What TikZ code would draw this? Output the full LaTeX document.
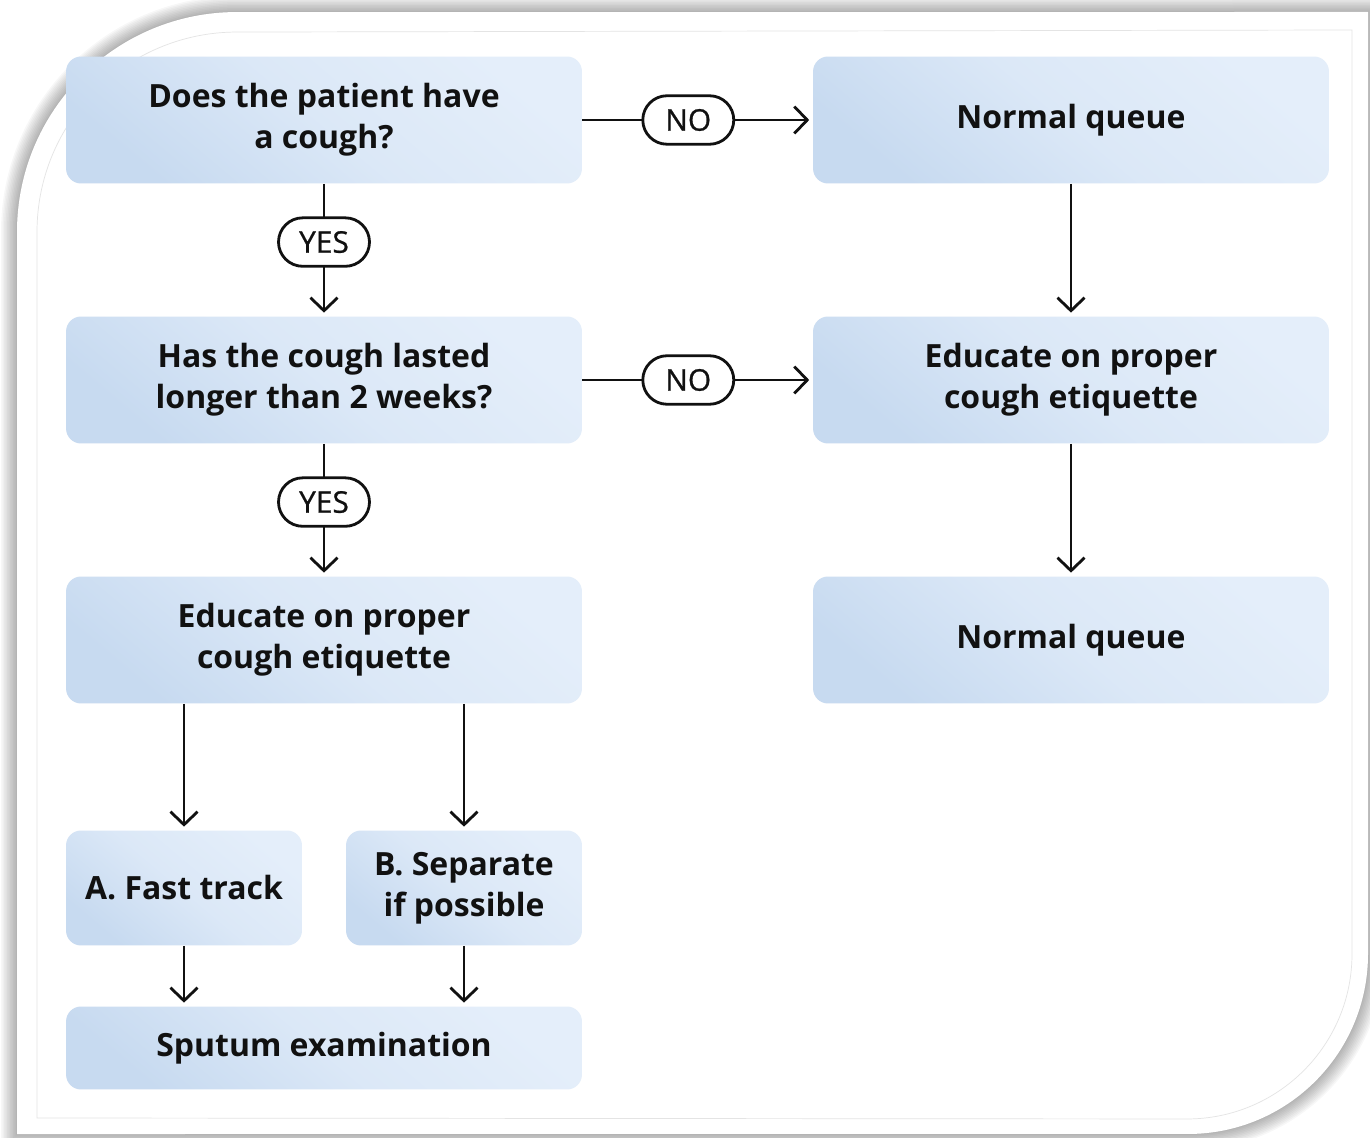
\documentclass[tikz,border=0pt]{standalone}
\usepackage{fontspec}
\setmainfont{Open Sans}
\newfontfamily\pillfont[FakeBold=0.8]{Open Sans}
\usetikzlibrary{arrows.meta,shapes.misc}
\tikzset{>={Straight Barb[length=2.6mm,width=5.4mm]}}
\definecolor{BoxLight}{RGB}{228,238,250}
\definecolor{BoxDark}{RGB}{199,218,240}
\definecolor{Ink}{RGB}{17,17,17}
\definecolor{Rim}{RGB}{228,228,228}
\newcommand\frameshape{(17,232) arc[start angle=180,end angle=90,radius=4.4cm] -- (1368,12) -- (1368,954) arc[start angle=0,end angle=-90,radius=3.6cm] -- (17,1134) -- cycle}
\newcommand\rimshape{(37,232) arc[start angle=180,end angle=90,radius=4cm] -- (1352,30) -- (1352,954) arc[start angle=0,end angle=-90,radius=3.3cm] -- (37,1118) -- cycle}
\tikzset{
  stepbox/.style={rectangle, rounded corners=0.3cm, inner sep=0pt, align=center,
    top color=BoxLight, bottom color=BoxDark, middle color=BoxLight!70!BoxDark, shading angle=-40,
    text=Ink, font=\bfseries\fontsize{18.2}{23.5}\selectfont,
    minimum width=10.32cm, minimum height=2.54cm},
  smallbox/.style={stepbox, minimum width=4.72cm, minimum height=2.3cm},
  pill/.style={rounded rectangle, draw=Ink, line width=1.6pt, fill=white, text=Ink,
    font=\pillfont\fontsize{17}{20}\selectfont, inner sep=0pt, minimum width=1.82cm, minimum height=0.97cm},
  link/.style={->, draw=Ink, line width=1.6pt, shorten >=0.07cm}
}

\begin{document}
\begin{tikzpicture}[x=0.02cm,y=-0.02cm]
        \useasboundingbox (0,0) rectangle (1370,1138);
        \clip (0,0) rectangle (1370,1138);
        \foreach \w in {2,5,...,32}
          \draw[black, opacity=0.03, line width=\w*0.02cm] \frameshape;
        \fill[white] \frameshape;
        \draw[Rim, line width=0.4pt] \rimshape;

        \node[stepbox] (cough) at (324,120) {Does the patient have\\a cough?};
        \node[stepbox] (queue1) at (1071,120) {Normal queue};
        \node[stepbox] (lasted) at (324,380) {Has the cough lasted\\longer than 2 weeks?};
        \node[stepbox] (educate1) at (1071,380) {Educate on proper\\cough etiquette};
        \node[stepbox] (educate2) at (324,640) {Educate on proper\\cough etiquette};
        \node[stepbox] (queue2) at (1071,640) {Normal queue};
        \node[smallbox] (fast) at (184,888) {A. Fast track};
        \node[smallbox] (separate) at (464,888) {B. Separate\\if possible};
        \node[stepbox, minimum height=1.66cm] (sputum) at (324,1048) {Sputum examination};

        \draw[link] (cough) -- node[pill,pos=0.46]{NO} (queue1);
        \draw[link] (lasted) -- node[pill,pos=0.46]{NO} (educate1);
        \draw[link] (cough) -- node[pill,pos=0.44]{YES} (lasted);
        \draw[link] (lasted) -- node[pill,pos=0.44]{YES} (educate2);
        \draw[link] (queue1) -- (educate1);
        \draw[link] (educate1) -- (queue2);
        \draw[link] (educate2.south -| fast) -- (fast);
        \draw[link] (educate2.south -| separate) -- (separate);
        \draw[link] (fast) -- (fast |- sputum.north);
        \draw[link] (separate) -- (separate |- sputum.north);
\end{tikzpicture}
\end{document}
